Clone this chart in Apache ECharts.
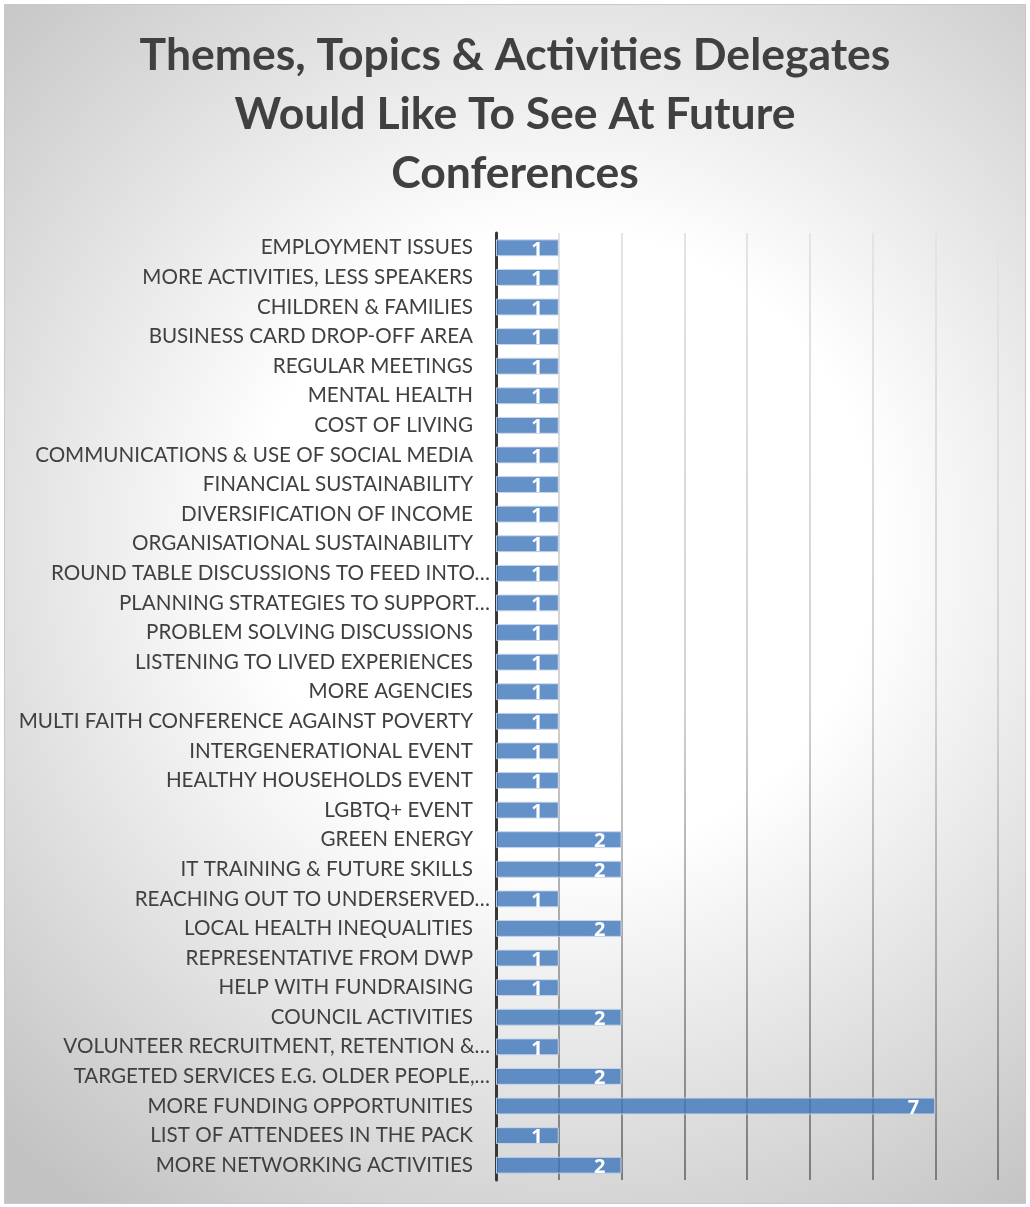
<!DOCTYPE html>
<html>
<head>
<meta charset="utf-8">
<script src="https://cdn.jsdelivr.net/npm/echarts@6/dist/echarts.min.js"></script>
<style>
  html, body { margin: 0; padding: 0; background: #ffffff; }
  #chart { width: 1030px; height: 1207px; }
</style>
</head>
<body>
<div id="chart"></div>
<script>
// Survey responses: themes, topics and activities suggested for future conferences
var categories = [
  'EMPLOYMENT ISSUES',
  'MORE ACTIVITIES, LESS SPEAKERS',
  'CHILDREN & FAMILIES',
  'BUSINESS CARD DROP-OFF AREA',
  'REGULAR MEETINGS',
  'MENTAL HEALTH',
  'COST OF LIVING',
  'COMMUNICATIONS & USE OF SOCIAL MEDIA',
  'FINANCIAL SUSTAINABILITY',
  'DIVERSIFICATION OF INCOME',
  'ORGANISATIONAL SUSTAINABILITY',
  'ROUND TABLE DISCUSSIONS TO FEED INTO…',
  'PLANNING STRATEGIES TO SUPPORT…',
  'PROBLEM SOLVING DISCUSSIONS',
  'LISTENING TO LIVED EXPERIENCES',
  'MORE AGENCIES',
  'MULTI FAITH CONFERENCE AGAINST POVERTY',
  'INTERGENERATIONAL EVENT',
  'HEALTHY HOUSEHOLDS EVENT',
  'LGBTQ+ EVENT',
  'GREEN ENERGY',
  'IT TRAINING & FUTURE SKILLS',
  'REACHING OUT TO UNDERSERVED…',
  'LOCAL HEALTH INEQUALITIES',
  'REPRESENTATIVE FROM DWP',
  'HELP WITH FUNDRAISING',
  'COUNCIL ACTIVITIES',
  'VOLUNTEER RECRUITMENT, RETENTION &…',
  'TARGETED SERVICES E.G. OLDER PEOPLE,…',
  'MORE FUNDING OPPORTUNITIES',
  'LIST OF ATTENDEES IN THE PACK',
  'MORE NETWORKING ACTIVITIES'
];

var counts = [
  1, 1, 1, 1, 1, 1, 1, 1, 1, 1,
  1, 1, 1, 1, 1, 1, 1, 1, 1, 1,
  2, 2, 1, 2, 1, 1, 2, 1, 2, 7,
  1, 2
];

var titleLines = [
  'Themes, Topics & Activities Delegates',
  'Would Like To See At Future',
  'Conferences'
];

var valueMin = 0;
var valueMax = 8;
var valueStep = 1;

var chart = echarts.init(document.getElementById('chart'), null, { renderer: 'canvas' });

var textColor = '#404040';
var labelFont = 'Lato, "Open Sans", sans-serif';
var labelSize = 20.6;

chart.setOption({
  backgroundColor: '#ffffff',
  animation: false,
  graphic: [{
    type: 'rect',
    z: -10,
    silent: true,
    shape: { x: 4.5, y: 4.5, width: 1021, height: 1199 },
    style: {
      fill: {
        type: 'radial',
        x: 0.55, y: 0.45, r: 0.8,
        colorStops: [
          { offset: 0, color: '#ffffff' },
          { offset: 0.38, color: '#ffffff' },
          { offset: 1, color: '#c2c2c2' }
        ]
      },
      stroke: '#c8c8c8',
      lineWidth: 1
    }
  }],
  title: {
    text: titleLines.join('\n'),
    left: 'center',
    top: 21,
    textStyle: {
      fontFamily: labelFont,
      fontWeight: 'bold',
      fontSize: 44.5,
      lineHeight: 59,
      color: textColor
    }
  },
  grid: {
    left: 496,
    right: 32,
    top: 233,
    bottom: 27,
    containLabel: false
  },
  xAxis: {
    type: 'value',
    min: valueMin,
    max: valueMax,
    interval: valueStep,
    axisLine: { show: false },
    axisTick: { show: false },
    axisLabel: { show: false },
    splitLine: {
      show: true,
      lineStyle: {
        width: 2,
        color: {
          type: 'linear',
          global: true,
          x: 0, y: 233, x2: 0, y2: 1180,
          colorStops: [
            { offset: 0, color: '#e4e4e4' },
            { offset: 0.5, color: '#d2d2d2' },
            { offset: 1, color: '#7c7c7c' }
          ]
        }
      }
    }
  },
  yAxis: {
    type: 'category',
    inverse: true,
    data: categories,
    axisLine: { show: true, lineStyle: { color: '#383838', width: 3 } },
    axisTick: { show: false },
    axisLabel: {
      margin: 6,
      color: textColor,
      fontFamily: labelFont,
      fontSize: labelSize,
      formatter: function (v) {
        return v.charAt(v.length - 1) === '…' ? '{e|' + v + '}' : '{n|' + v + '}';
      },
      rich: {
        n: { color: textColor, fontFamily: labelFont, fontSize: labelSize, padding: [0, 17, 0, 0] },
        e: { color: textColor, fontFamily: labelFont, fontSize: labelSize }
      }
    }
  },
  series: [{
    type: 'bar',
    data: counts,
    barCategoryGap: '43%',
    itemStyle: {
      color: 'rgba(62,118,188,0.8)',
      borderColor: 'rgba(200,215,235,0.9)',
      borderWidth: 1
    },
    label: {
      show: true,
      position: 'insideRight',
      distance: 16,
      offset: [0, 2],
      color: '#ffffff',
      fontFamily: '"Open Sans", sans-serif',
      fontWeight: 'bold',
      fontSize: 20
    }
  }]
});
</script>
</body>
</html>
